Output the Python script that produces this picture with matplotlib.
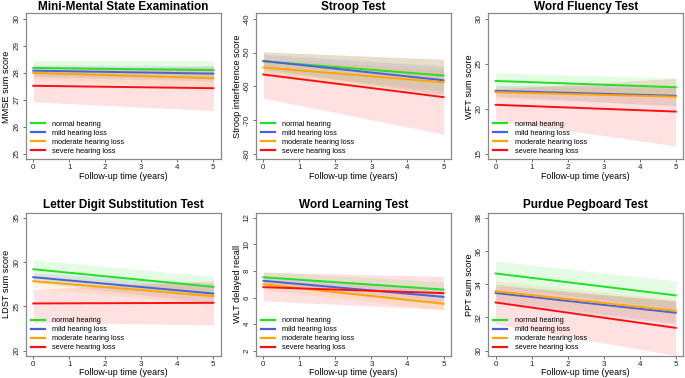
import numpy as np
import matplotlib
matplotlib.use("Agg")
import matplotlib.pyplot as plt

plt.rcParams["font.family"] = ["Liberation Sans", "DejaVu Sans"]

years = [0, 5]
groups = ["normal hearing", "mild hearing loss", "moderate hearing loss", "severe hearing loss"]
colors = ["#22e022", "#4a62d8", "#ffa500", "#ff1010"]

titles = ["Mini-Mental State Examination", "Stroop Test", "Word Fluency Test",
          "Letter Digit Substitution Test", "Word Learning Test", "Purdue Pegboard Test"]
ylabels = ["MMSE sum score", "Stroop interference score", "WFT sum score",
           "LDST sum score", "WLT delayed recall", "PPT sum score"]
yticks = [[25, 26, 27, 28, 29, 30], [-80, -70, -60, -50, -40], [15, 20, 25, 30],
          [20, 25, 30, 35], [2, 4, 6, 8, 10, 12], [30, 32, 34, 36, 38]]

# estimated line at year 0 / year 5 per group: normal, mild, moderate, severe
mmse_mean = [[28.18, 28.10], [28.08, 27.97], [28.00, 27.80], [27.52, 27.43]]
mmse_lo = [[27.92, 27.78], [27.85, 27.70], [27.75, 27.45], [26.93, 26.60]]
mmse_hi = [[28.45, 28.45], [28.30, 28.25], [28.25, 28.15], [28.10, 28.25]]

stroop_mean = [[-52.6, -56.8], [-52.5, -58.2], [-54.4, -58.8], [-56.5, -63.2]]
stroop_lo = [[-55.5, -61.5], [-54.8, -62.5], [-56.8, -62.5], [-63.5, -74.2]]
stroop_hi = [[-49.8, -52.0], [-50.5, -54.0], [-52.0, -55.0], [-49.8, -52.0]]

wft_mean = [[23.1, 22.4], [22.0, 21.45], [21.85, 21.35], [20.45, 19.7]]
wft_lo = [[22.2, 21.4], [21.4, 20.3], [21.2, 20.4], [18.7, 15.9]]
wft_hi = [[24.0, 23.4], [22.6, 22.6], [22.5, 22.3], [22.2, 23.4]]

ldst_mean = [[29.2, 27.2], [28.3, 26.45], [27.85, 26.15], [25.33, 25.4]]
ldst_lo = [[28.1, 26.0], [27.7, 25.4], [27.1, 25.2], [23.2, 22.9]]
ldst_hi = [[30.25, 28.4], [28.8, 27.6], [28.5, 27.1], [26.9, 27.9]]

wlt_mean = [[7.53, 6.60], [7.26, 6.05], [7.00, 5.53], [6.78, 6.33]]
wlt_lo = [[7.10, 6.00], [6.90, 5.50], [6.60, 5.05], [5.75, 5.10]]
wlt_hi = [[7.95, 7.20], [7.60, 6.60], [7.40, 6.00], [7.90, 7.60]]

ppt_mean = [[34.65, 33.33], [33.47, 32.28], [33.58, 32.40], [32.90, 31.37]]
ppt_lo = [[33.90, 32.50], [32.90, 31.60], [33.00, 31.70], [31.60, 29.70]]
ppt_hi = [[35.40, 34.20], [34.00, 33.00], [34.20, 33.10], [33.90, 33.00]]

tests = [(mmse_mean, mmse_lo, mmse_hi), (stroop_mean, stroop_lo, stroop_hi),
         (wft_mean, wft_lo, wft_hi), (ldst_mean, ldst_lo, ldst_hi),
         (wlt_mean, wlt_lo, wlt_hi), (ppt_mean, ppt_lo, ppt_hi)]

fig = plt.figure(figsize=(6.85, 3.78), dpi=100)
lefts = [0.038, 0.374, 0.713]
bottoms = [0.5786, 0.0585]
heights = [0.386, 0.379]
W = 0.284

for i, (mean, lo, hi) in enumerate(tests):
    row = i // 3
    ax = fig.add_axes([lefts[i % 3], bottoms[row], W, heights[row]])
    for g in range(4):
        ax.fill_between(years, lo[g], hi[g], color=colors[g], alpha=0.12, lw=0)
    for g in range(4):
        ax.plot(years, mean[g], color=colors[g], lw=1.4, label=groups[g])
    yt = yticks[i]
    r = yt[-1] - yt[0]
    ax.set_ylim(yt[0] - 0.04 * r, yt[-1] + 0.04 * r)
    ax.set_xlim(-0.2, 5.2)
    ax.set_yticks(yt)
    ax.set_yticklabels([str(v) for v in yt], rotation=90, va="center")
    ax.set_xticks(range(6))
    ax.tick_params(direction="out", length=2.5, width=0.6, color="#555555",
                   labelsize=5.8, labelcolor="#222222", pad=1.5)
    ax.tick_params(axis="x", pad=1)
    for s in ax.spines.values():
        s.set_color("#888888"); s.set_linewidth(0.9)
    ax.set_title(titles[i], fontsize=8.5, fontweight="bold", pad=2 + row)
    ax.set_ylabel(ylabels[i], fontsize=6.6, labelpad=1.5)
    ax.set_xlabel("Follow-up time (years)", fontsize=6.4, labelpad=0.3)
    leg = ax.legend(loc="lower left", frameon=False, fontsize=5.3, handlelength=1.9,
                    labelspacing=0.25, borderaxespad=0.25, handletextpad=1.0)
    for h in leg.get_lines():
        h.set_linewidth(1.6)

fig.savefig("out.png", dpi=100)
